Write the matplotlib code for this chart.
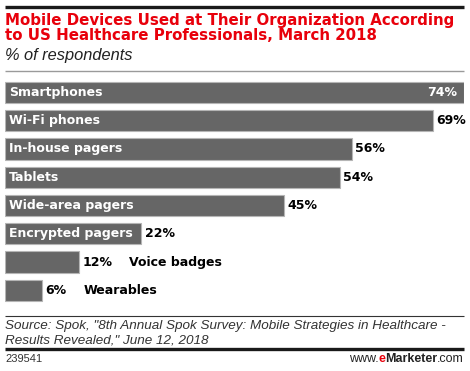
import matplotlib
matplotlib.use("Agg")
import matplotlib.pyplot as plt
from matplotlib.lines import Line2D

categories = ["Smartphones", "Wi-Fi phones", "In-house pagers", "Tablets",
              "Wide-area pagers", "Encrypted pagers", "Voice badges", "Wearables"]
values = [74, 69, 56, 54, 45, 22, 12, 6]
value_labels = ["74%", "69%", "56%", "54%", "45%", "22%", "12%", "6%"]

title_lines = ["Mobile Devices Used at Their Organization According",
               "to US Healthcare Professionals, March 2018"]
subtitle = "% of respondents"
source_lines = ['Source: Spok, "8th Annual Spok Survey: Mobile Strategies in Healthcare -',
                'Results Revealed," June 12, 2018']
chart_id = "239541"

W, H = 470, 371
fig = plt.figure(figsize=(W / 100, H / 100), dpi=100)
fig.patch.set_facecolor("white")
plt.rcParams["font.family"] = ["DejaVu Sans"]
SANS = ["Liberation Sans", "DejaVu Sans"]

def fx(px):
    return px / W

def fy(py):
    return 1 - py / H

def hline(y, lw, color):
    fig.add_artist(Line2D([fx(5), fx(464)], [fy(y), fy(y)], lw=lw, color=color,
                          transform=fig.transFigure, solid_capstyle="butt"))

hline(6.5, 2.4, "#1a1a1a")
hline(70.5, 1.0, "#9a9a9a")
hline(316, 0.8, "#333333")
hline(348.5, 2.4, "#1a1a1a")

for line, base in zip(title_lines, [25, 40]):
    fig.text(fx(5), fy(base), line, color="#e8000b", fontsize=10.85, fontweight="bold",
             va="baseline", ha="left")
fig.text(fx(5), fy(60), subtitle, color="#222222", fontsize=11.8, style="italic",
         family=SANS, va="baseline", ha="left")
for line, base in zip(source_lines, [329.5, 343.5]):
    fig.text(fx(5), fy(base), line, color="#333333", fontsize=9.7, style="italic",
             family=SANS, va="baseline", ha="left")
fig.text(fx(5), fy(359.5), chart_id, color="#333333", fontsize=8.0, family=SANS,
         va="center", ha="left")

# bars
spacing = 28.3
c0 = 92.3
top = c0 - spacing / 2
bottom = c0 + 7 * spacing + spacing / 2
ax = fig.add_axes([fx(5), fy(bottom), 74 * 6.2 / W, (bottom - top) / H])
ax.set_xlim(0, 74)
ax.set_ylim(len(categories) - 0.5, -0.5)
ax.axis("off")

ypos = list(range(len(categories)))
ax.barh(ypos, values, height=0.75, color="#666666", edgecolor="#b5b5b5", linewidth=0.8)

lab_fs = 9.0
for i, (cat, v, vl) in enumerate(zip(categories, values, value_labels)):
    if i == 0:
        ax.text(v - 1.0, i, vl, color="white", fontsize=lab_fs, fontweight="bold",
                va="center", ha="right")
        ax.text(0.6, i, cat, color="white", fontsize=lab_fs, fontweight="bold",
                va="center", ha="left")
    elif v >= 20:
        ax.text(v + 0.5, i, vl, color="black", fontsize=lab_fs, fontweight="bold",
                va="center", ha="left")
        ax.text(0.6, i, cat, color="white", fontsize=lab_fs, fontweight="bold",
                va="center", ha="left")
    else:
        vt = ax.text(v + 0.5, i, vl, color="black", fontsize=lab_fs, fontweight="bold",
                     va="center", ha="left")
        ax.annotate(cat, xy=(1, 0.5), xycoords=vt, xytext=(12.1, 0),
                    textcoords="offset points", color="black", fontsize=lab_fs,
                    fontweight="bold", va="center", ha="left")

# eMarketer footer, right aligned
parts = [("www.", "#222222", "normal"), ("e", "#e8000b", "bold"),
         ("Marketer", "#222222", "bold"), (".com", "#222222", "normal")]
fig.canvas.draw()
r = fig.canvas.get_renderer()
arts = []
for txt, col, wt in parts:
    t = fig.text(0, fy(359.5), txt, color=col, fontsize=9.0, fontweight=wt,
                 family=SANS, va="center", ha="left")
    arts.append(t)
widths = [a.get_window_extent(r).width for a in arts]
x = 464 - sum(widths)
for a, w in zip(arts, widths):
    a.set_x(fx(x))
    x += w

fig.savefig("out.png", dpi=100, facecolor="white")
